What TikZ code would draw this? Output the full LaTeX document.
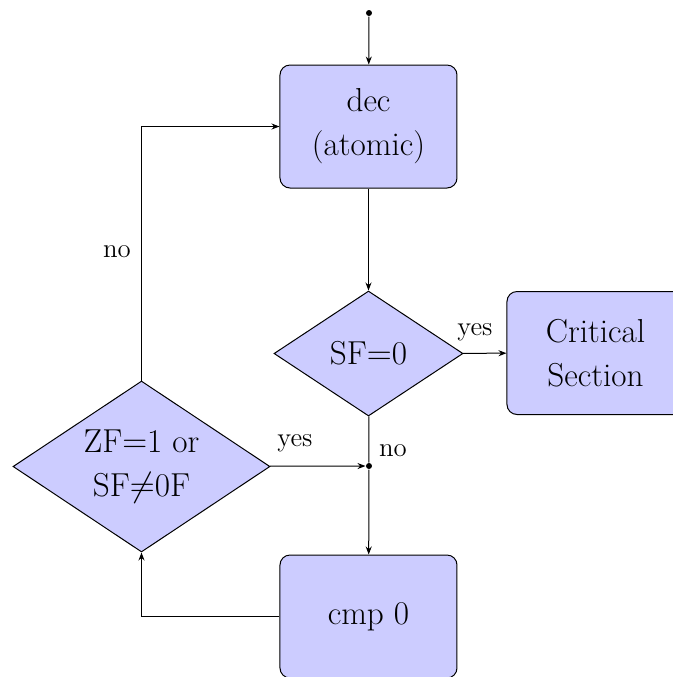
\documentclass[tikz,border=0pt]{standalone}
\usetikzlibrary{shapes.geometric,arrows.meta}
\newcommand{\nodefont}{\fontsize{16.6pt}{22pt}\selectfont}
\newcommand{\lblfont}{\fontsize{13.4pt}{16pt}\selectfont}
\begin{document}
\begin{tikzpicture}[x=0.5pt,y=-0.5pt,line width=0.5pt,
  procbox/.style={draw, fill=blue!20, rounded corners=5pt, minimum width=88.5pt,
    minimum height=61.5pt, align=center, inner sep=0pt, font=\nodefont},
  decision/.style={draw, fill=blue!20, diamond, aspect=1.5, inner sep=0pt, align=center, font=\nodefont},
  lbl/.style={font=\lblfont, inner sep=0pt},
  flow/.style={-{Stealth[length=4pt,width=3pt]}},
  dot/.style={circle, fill, inner sep=0pt, minimum size=3pt}]
\useasboundingbox (0,0) rectangle (673,677);
\clip (0,0) rectangle (673,677);

% process boxes
\node[procbox] (dec)  at (368.5,126.5) {dec\\(atomic)};
\node[procbox] (crit) at (595.5,353)   {Critical\\Section};
\node[procbox] (cmp)  at (368.5,616.5) {cmp 0};

% decisions
\node[decision, minimum width=94.5pt, minimum height=62.5pt] (sf) at (368.5,353.5) {SF$=$0};
\node[decision, minimum width=128.5pt, minimum height=85.5pt] (zf) at (141.5,466.5) {ZF$=$1 or\\SF$\neq$0F};

% entry point and junction
\node[dot] (start) at (369,13) {};
\node[dot] (join)  at (369,466) {};

% connectors
\draw[flow] (start) -- (dec);
\draw[flow] (dec) -- (sf);
\draw[flow] (sf) -- (crit);
\draw (sf) -- (join);
\draw[flow] (join) -- (cmp);
\draw[flow] (zf) -- (join);
\draw[flow] (cmp.west) -| (zf.south);
\draw[flow] (zf.north) |- (dec.west);

% branch labels
\node[lbl] (lyes1) at (475,332) {yes};
\node[lbl] (lyes2) at (295,443) {yes};
\node[lbl] (lno1)  at (393,451) {no};
\node[lbl] (lno2)  at (117,252) {no};
\end{tikzpicture}
\end{document}
